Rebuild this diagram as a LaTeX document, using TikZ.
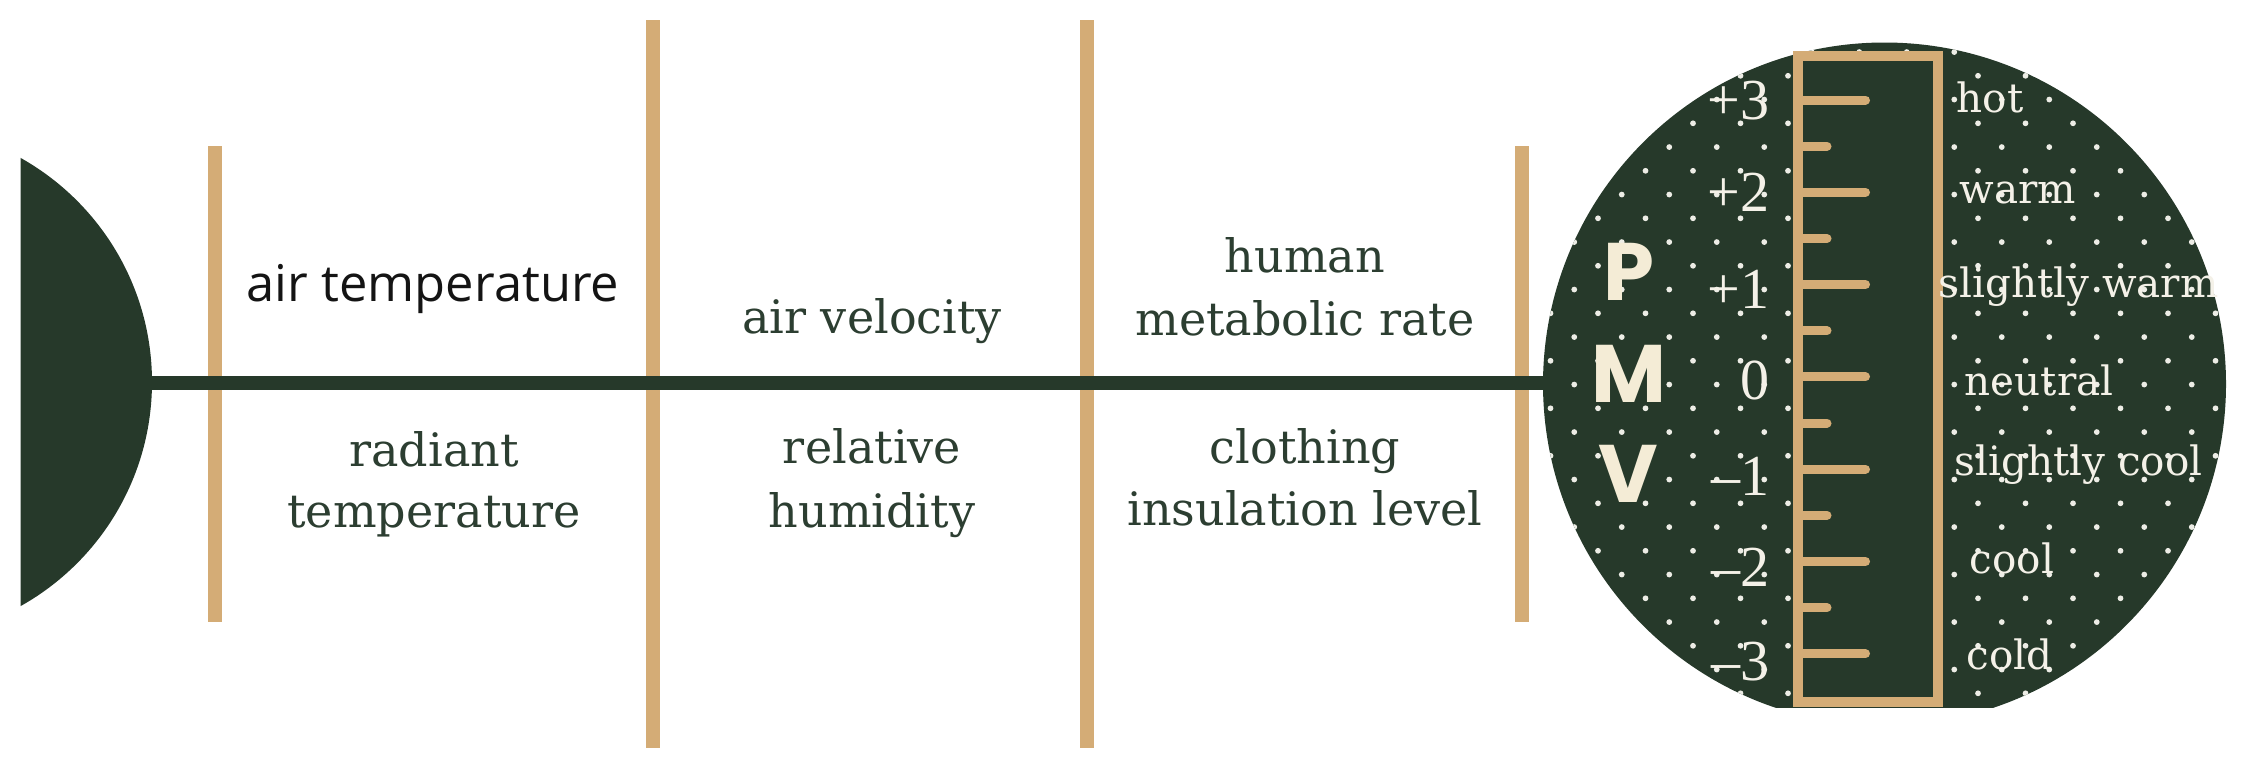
\documentclass[tikz,border=0pt]{standalone}
\usepackage{fontspec}
\setmainfont{DejaVu Serif}
\newfontfamily\opensansfam{Open Sans}
\newfontfamily\poppinsfam{Poppins}
\newfontfamily\libserfam{Liberation Serif}
\definecolor{dkgreen}{HTML}{26392A}
\definecolor{fbtan}{HTML}{D4AC76}
\definecolor{txtgreen}{HTML}{2C3E31}
\definecolor{pmvcream}{HTML}{F4ECD6}
\definecolor{sclwhite}{HTML}{F4F1E8}
\definecolor{dotwhite}{HTML}{EDEDE6}
\tikzset{
  barline/.style={line width=3.98pt, draw=fbtan},
  spineline/.style={line width=4pt, draw=dkgreen},
  lbl/.style={font=\fontsize{13.1}{16}\selectfont, text=txtgreen, inner sep=0pt, anchor=base},
  sanslbl/.style={font=\opensansfam\fontsize{14.4}{17}\selectfont, text=black!92, inner sep=0pt, anchor=base},
  scl/.style={font=\fontsize{11.5}{13}\selectfont, text=sclwhite, inner sep=0pt, anchor=base west},
  num/.style={font=\libserfam\fontsize{16.5}{18}\selectfont, text=sclwhite, inner sep=0pt, anchor=base east},
  pmv/.style={font=\poppinsfam\bfseries\fontsize{23.2}{26}\selectfont, text=pmvcream, inner sep=0pt, anchor=base},
  majortick/.style={line width=2.56pt, draw=fbtan, line cap=round},
}
\begin{document}
\begin{tikzpicture}[x=0.01cm,y=-0.01cm]
\useasboundingbox (0,0) rectangle (2245,769);
% bars
\draw[barline] (214.5,146) -- (214.5,622);
\draw[barline] (653,20) -- (653,748);
\draw[barline] (1087,20) -- (1087,748);
\draw[barline] (1522,146) -- (1522,622);
% spine
\coordinate (head) at (130,383);
\coordinate (pmvcenter) at (1884.5,384);
\draw[spineline] (head) -- (1560,383);
% head segment
\begin{scope}
  \clip (20.7,0) rectangle (400,769);
  \fill[dkgreen] (-104.7,382) circle[radius=256.7];
\end{scope}
% PMV disc
\begin{scope}
  \clip (0,0) rectangle (2245,707.3);
  \fill[dkgreen] (pmvcenter) circle[radius=341.5];
  \clip (pmvcenter) circle[radius=341.5];
  \foreach \i in {-3,...,27}{
    \foreach \j in {-8,...,21}{
      \pgfmathtruncatemacro{\dsum}{\i+\j}
      \ifodd\dsum\relax\else
        \fill[dotwhite] ({1598+23.75*\i},{218.3+23.75*\j}) circle[radius=2.9];
      \fi
    }
  }
\end{scope}
% ruler
\draw[line width=2.85pt, draw=fbtan, fill=dkgreen] (1798.3,55.7) rectangle (1938.3,702.3);
\foreach \k in {0,...,6}{
  \draw[majortick] (1801,{100+92.3*\k}) -- (1865.5,{100+92.3*\k});
}
\foreach \k in {0,...,5}{
  \draw[majortick] (1801,{146.15+92.3*\k}) -- (1827,{146.15+92.3*\k});
}
% numbers
\node[num] (n3) at (1770,119) {+3};
\node[num] (n2) at (1770,211) {+2};
\node[num] (n1) at (1770,308) {+1};
\node[num] (n0) at (1770,399) {0};
\node[num] (nm1) at (1770,495) {–1};
\node[num] (nm2) at (1770,586) {–2};
\node[num] (nm3) at (1770,680) {–3};
% PMV letters
\node[pmv] (P) at (1628.5,300) {P};
\node[pmv] (M) at (1628.5,402) {M};
\node[pmv] (V) at (1628.5,502) {V};
% scale labels
\node[scl] (hot) at (1956,112) {hot};
\node[scl] (warm) at (1959,203) {warm};
\node[scl] (swarm) at (1938,297) {slightly warm};
\node[scl] (neutral) at (1964,395) {neutral};
\node[scl] (scool) at (1954,475) {slightly cool};
\node[scl] (cool) at (1969,573) {cool};
\node[scl] (cold) at (1966,669) {cold};
% factor labels
\node[sanslbl] (airtemp) at (433,301) {air temperature};
\node[lbl] (rad1) at (434,466) {radiant};
\node[lbl] (rad2) at (434,527) {temperature};
\node[lbl] (airvel) at (872,333) {air velocity};
\node[lbl] (rel1) at (872,463) {relative};
\node[lbl] (rel2) at (872,527) {humidity};
\node[lbl] (hum1) at (1305,272) {human};
\node[lbl] (hum2) at (1305,335) {metabolic rate};
\node[lbl] (clo1) at (1305,463) {clothing};
\node[lbl] (clo2) at (1305,525) {insulation level};
\end{tikzpicture}
\end{document}
